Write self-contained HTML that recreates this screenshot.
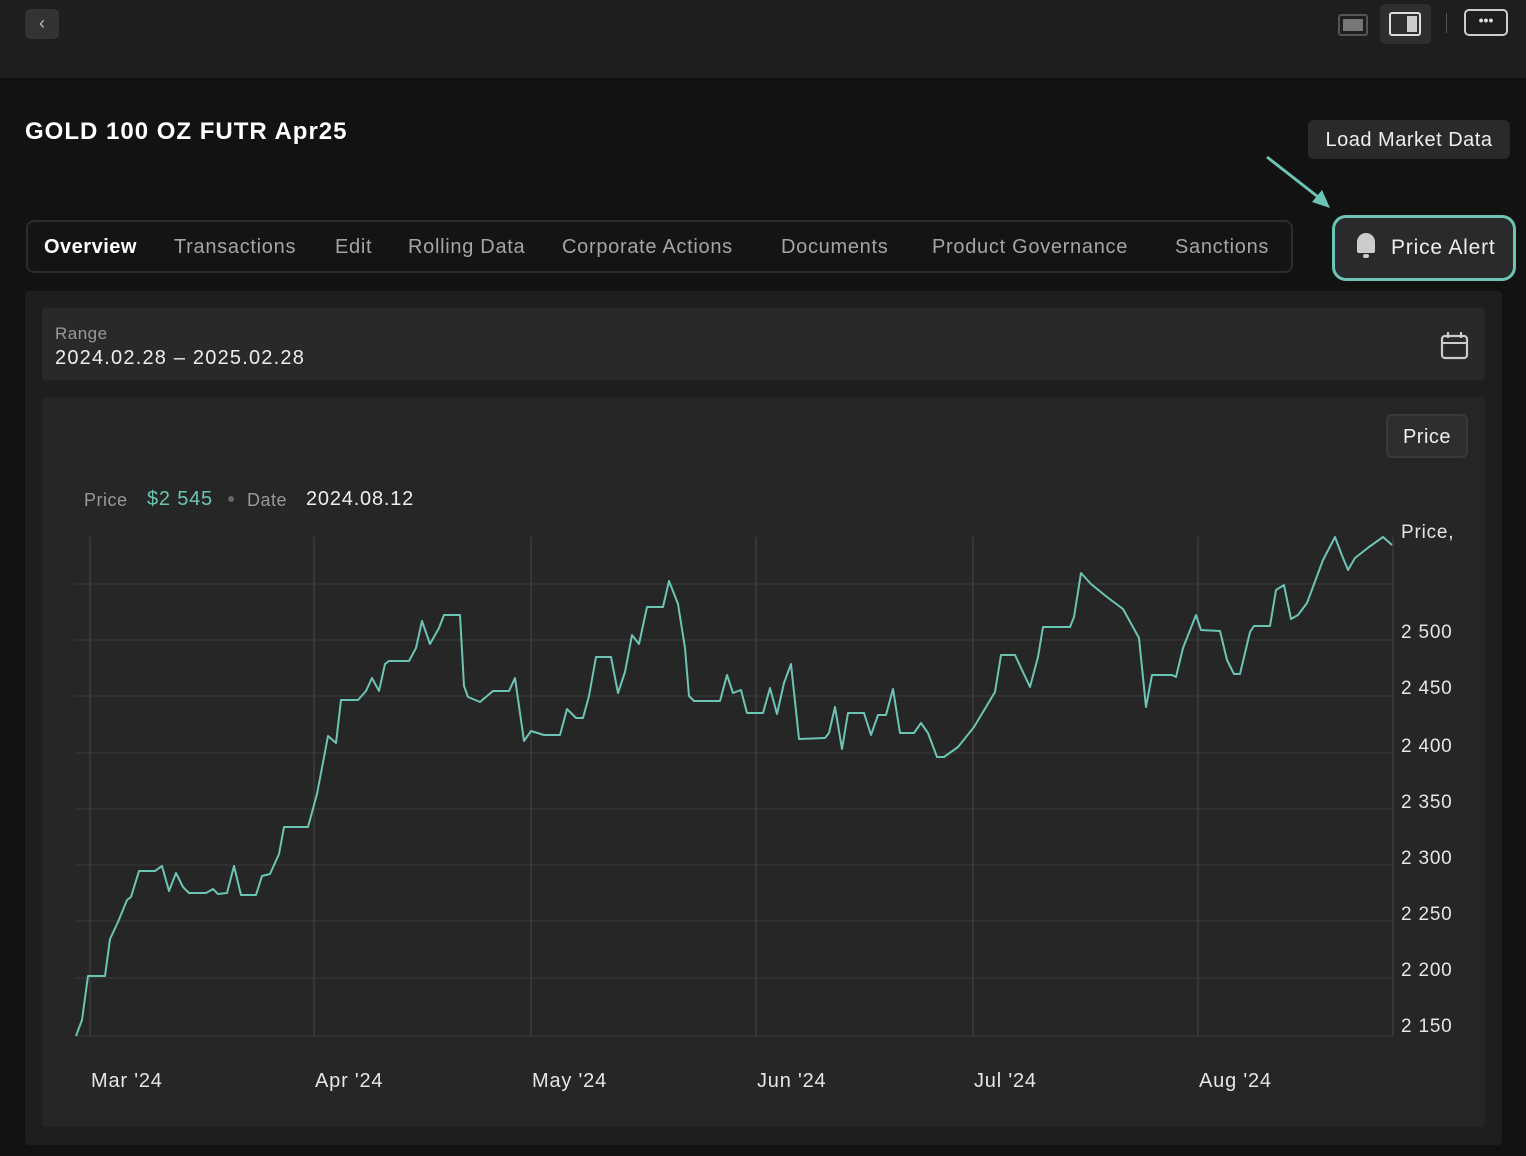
<!DOCTYPE html>
<html><head><style>
*{margin:0;padding:0;box-sizing:border-box}
body{width:1526px;height:1156px;background:#121212;font-family:"Liberation Sans",sans-serif;position:relative;overflow:hidden;color:#fff}
.a{position:absolute}
.t{position:absolute;top:236px;font-size:20px;color:#a5a5a5;white-space:nowrap;letter-spacing:0.7px}
</style></head><body>
<div class="a" style="left:0;top:0;width:1526px;height:78px;background:#1e1e20"></div>
<div class="a" style="left:25px;top:9px;width:34px;height:30px;background:#333336;border-radius:5px;color:#bbb;font-size:18px;text-align:center;line-height:28px">&#8249;</div>
<div class="a" style="left:1338px;top:14px;width:30px;height:22px;border:2px solid #555;border-radius:3px"><div style="margin:3px;height:12px;background:#777"></div></div>
<div class="a" style="left:1380px;top:4px;width:51px;height:40px;background:#2e2e31;border-radius:5px"></div>
<div class="a" style="left:1389px;top:12px;width:32px;height:24px;border:2px solid #ddd;border-radius:3px"><div style="position:absolute;right:2px;top:2px;width:10px;height:16px;background:#ccc"></div></div>
<div class="a" style="left:1446px;top:13px;width:1px;height:20px;background:#555"></div>
<div class="a" style="left:1464px;top:9px;width:44px;height:27px;border:2px solid #ccc;border-radius:5px;color:#ddd;font-size:14px;text-align:center;line-height:18px;font-weight:bold">&#8226;&#8226;&#8226;</div>

<div class="a" style="left:25px;top:118px;font-size:24px;font-weight:bold;letter-spacing:1px">GOLD 100 OZ FUTR Apr25</div>
<div class="a" style="left:1308px;top:120px;width:202px;height:39px;background:#2a2a2a;border-radius:6px;font-size:20px;line-height:41px;text-align:center;color:#eee;letter-spacing:0.5px">Load Market Data</div>
<svg class="a" style="left:1260px;top:150px" width="80" height="65"><line x1="7" y1="7" x2="62" y2="50" stroke="#6cc5b4" stroke-width="3"/><polygon points="70,58 52,52 62,40" fill="#6cc5b4"/></svg>

<div class="a" style="left:26px;top:220px;width:1267px;height:53px;border:2px solid #2c2c2c;border-radius:8px;background:#141414"></div>
<div class="t" style="left:44px;color:#fff;font-weight:bold;letter-spacing:0.5px">Overview</div>
<div class="t" style="left:174px">Transactions</div>
<div class="t" style="left:335px">Edit</div>
<div class="t" style="left:408px">Rolling Data</div>
<div class="t" style="left:562px">Corporate Actions</div>
<div class="t" style="left:781px">Documents</div>
<div class="t" style="left:932px">Product Governance</div>
<div class="t" style="left:1175px">Sanctions</div>
<div class="a" style="left:1332px;top:215px;width:184px;height:66px;border:3px solid #6cc5b4;border-radius:14px;background:#2a2a2a"></div>
<div class="a" style="left:1354px;top:233px;width:24px;height:28px"><div style="width:18px;height:20px;margin-left:3px;background:#ccc;border-radius:9px 9px 2px 2px"></div><div style="width:6px;height:4px;margin:1px auto;background:#ccc;border-radius:3px"></div></div>
<div class="a" style="left:1391px;top:236px;font-size:21px;color:#eee;letter-spacing:0.8px">Price Alert</div>

<div class="a" style="left:25px;top:291px;width:1477px;height:854px;background:#1e1e1e;border-radius:4px"></div>
<div class="a" style="left:42px;top:308px;width:1443px;height:72px;background:#292929;border-radius:4px"></div>
<div class="a" style="left:55px;top:324px;font-size:17px;color:#999;letter-spacing:0.5px">Range</div>
<div class="a" style="left:55px;top:347px;font-size:20px;color:#eee;letter-spacing:1.2px">2024.02.28 – 2025.02.28</div>
<svg class="a" style="left:1439px;top:331px" width="32" height="30"><rect x="3" y="5" width="25" height="22" rx="3" fill="none" stroke="#ccc" stroke-width="2.2"/><line x1="3" y1="12" x2="28" y2="12" stroke="#ccc" stroke-width="2"/><line x1="9" y1="1" x2="9" y2="7" stroke="#ccc" stroke-width="2.2"/><line x1="22" y1="1" x2="22" y2="7" stroke="#ccc" stroke-width="2.2"/></svg>

<div class="a" style="left:42px;top:397px;width:1443px;height:730px;background:#262626;border-radius:4px"></div>
<div class="a" style="left:1386px;top:414px;width:82px;height:44px;border:2px solid #3a3a3a;border-radius:6px;background:#2e2e2e;font-size:20px;line-height:42px;text-align:center;color:#eee;letter-spacing:0.5px">Price</div>
<div class="a" style="left:84px;top:490px;font-size:18px;color:#999;letter-spacing:0.5px">Price</div>
<div class="a" style="left:147px;top:488px;font-size:20px;color:#6cc5b4;letter-spacing:0.8px">$2 545</div>
<div class="a" style="left:227px;top:490px;font-size:14px;color:#666">●</div>
<div class="a" style="left:247px;top:490px;font-size:18px;color:#999;letter-spacing:0.5px">Date</div>
<div class="a" style="left:306px;top:488px;font-size:20px;color:#eee;letter-spacing:0.8px">2024.08.12</div>

<svg class="a" style="left:0;top:0" width="1526" height="1156">
<g stroke="#363636" stroke-width="1.3">
<line x1="75" y1="584" x2="1393" y2="584"/><line x1="75" y1="640" x2="1393" y2="640"/><line x1="75" y1="696" x2="1393" y2="696"/><line x1="75" y1="753" x2="1393" y2="753"/><line x1="75" y1="809" x2="1393" y2="809"/><line x1="75" y1="865" x2="1393" y2="865"/><line x1="75" y1="921" x2="1393" y2="921"/><line x1="75" y1="978" x2="1393" y2="978"/><line x1="75" y1="1036" x2="1393" y2="1036"/>
</g>
<g stroke="#3f3f3f" stroke-width="1.3">
<line x1="90" y1="537" x2="90" y2="1036"/><line x1="314" y1="537" x2="314" y2="1036"/><line x1="531" y1="537" x2="531" y2="1036"/><line x1="756" y1="537" x2="756" y2="1036"/><line x1="973" y1="537" x2="973" y2="1036"/><line x1="1198" y1="537" x2="1198" y2="1036"/><line x1="1393" y1="537" x2="1393" y2="1036"/>
</g>
<polyline fill="none" stroke="#6cc5b4" stroke-width="2" stroke-linejoin="round" points="76,1036 82,1020 88,976 105,976 110,939 118,922 127,900 131,897 139,871 155,871 162,866 169,891 176,873 183,887 189,893 206,893 213,889 218,894 227,893 234,866 241,895 256,895 262,876 270,874 279,854 284,827 308,827 317,794 321,773 328,736 336,743 341,700 358,700 366,691 372,678 379,691 385,664 389,661 409,661 416,648 422,621 430,644 439,628 444,615 460,615 464,686 468,697 480,702 493,691 509,691 515,678 524,741 531,731 544,735 560,735 567,709 576,718 583,718 589,696 596,657 611,657 618,693 625,672 632,635 639,644 647,607 663,607 669,581 678,604 685,648 689,696 694,701 720,701 727,675 733,693 741,690 747,713 763,713 770,688 777,714 784,683 791,664 799,739 825,738 829,733 835,707 842,749 848,713 864,713 871,735 878,715 886,715 893,689 900,733 914,733 921,723 928,733 937,757 944,757 958,747 974,727 995,692 1001,655 1015,655 1022,670 1030,687 1038,657 1043,627 1070,627 1074,617 1081,573 1091,584 1107,597 1123,609 1139,638 1146,707 1152,675 1172,675 1176,677 1183,648 1196,615 1201,630 1220,631 1227,660 1234,674 1240,674 1250,632 1254,626 1270,626 1276,590 1284,585 1291,619 1298,615 1307,603 1323,560 1335,537 1341,553 1348,570 1355,558 1369,547 1383,537 1392,545"/>
<g font-family="Liberation Sans, sans-serif" font-size="19" fill="#e6e6e6" letter-spacing="0.8">
<text x="1401" y="538">Price,</text>
<text x="1401" y="638">2 500</text><text x="1401" y="694">2 450</text><text x="1401" y="752">2 400</text><text x="1401" y="808">2 350</text><text x="1401" y="864">2 300</text><text x="1401" y="920">2 250</text><text x="1401" y="976">2 200</text><text x="1401" y="1032">2 150</text>
<text x="91" y="1087" font-size="20">Mar '24</text><text x="315" y="1087" font-size="20">Apr '24</text><text x="532" y="1087" font-size="20">May '24</text><text x="757" y="1087" font-size="20">Jun '24</text><text x="974" y="1087" font-size="20">Jul '24</text><text x="1199" y="1087" font-size="20">Aug '24</text>
</g>
</svg>
</body></html>
